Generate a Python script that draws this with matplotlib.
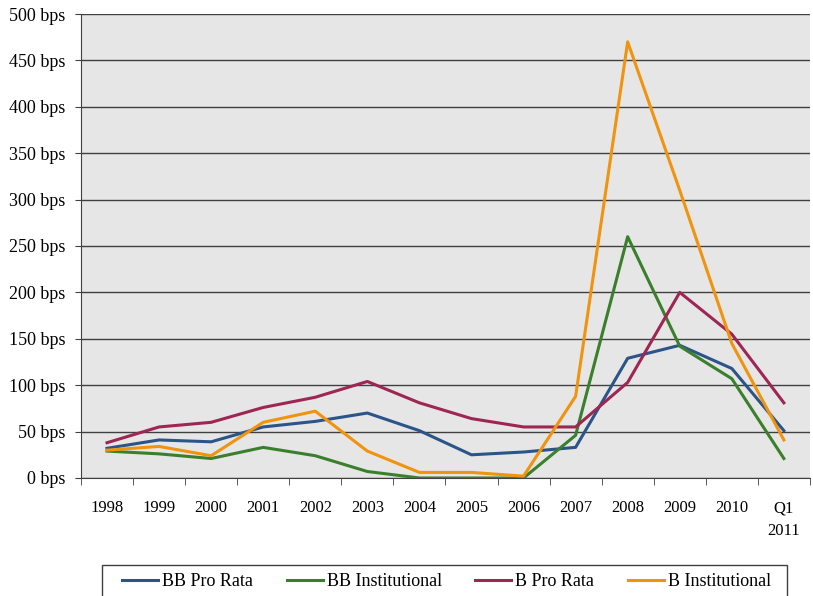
# Imports
import matplotlib
matplotlib.use('Agg')
import matplotlib.pyplot as plt
from matplotlib.patches import Rectangle
import numpy as np

# Data
categories = ['1998', '1999', '2000', '2001', '2002', '2003', '2004', '2005',
              '2006', '2007', '2008', '2009', '2010', 'Q1\n2011']
bb_pro_rata = [32, 41, 39, 55, 61, 70, 51, 25, 28, 33, 129, 143, 118, 51]
bb_institutional = [29, 26, 21, 33, 24, 7, 0, 0, 0, 46, 260, 142, 107, 21]
b_pro_rata = [38, 55, 60, 76, 87, 104, 81, 64, 55, 55, 103, 200, 155, 81]
b_institutional = [30, 34, 24, 60, 72, 29, 6, 6, 2, 88, 470, 310, 145, 41]
y_ticks = [0, 50, 100, 150, 200, 250, 300, 350, 400, 450, 500]

series = [('BB Pro Rata', bb_pro_rata, '#2b5488'),
          ('BB Institutional', bb_institutional, '#3a7f2c'),
          ('B Pro Rata', b_pro_rata, '#9e2653'),
          ('B Institutional', b_institutional, '#f0930d')]

plt.rcParams['font.family'] = ['Liberation Serif', 'DejaVu Serif']
plt.rcParams['font.size'] = 12.5


def main():
    fig = plt.figure(figsize=(8.13, 5.96), dpi=100)
    ax = fig.add_axes([0.0996, 0.198, 0.8966, 0.7785])
    ax.set_facecolor('#e6e6e6')

    x = np.arange(len(categories))
    for label, values, color in series:
        ax.plot(x, values, color=color, linewidth=2.2, label=label, zorder=3)

    # Axes limits and ticks
    ax.set_xlim(-0.5, len(categories) - 0.5)
    ax.set_ylim(0, 500)
    ax.set_yticks(y_ticks)
    ax.set_yticklabels(['{:d} bps'.format(v) for v in y_ticks], fontsize=13)
    ax.set_xticks(x)
    ax.set_xticklabels(categories, fontsize=12, linespacing=1.55)
    ax.set_xticks(np.arange(-0.5, len(categories)), minor=True)
    ax.tick_params(axis='x', which='major', length=0, pad=16)
    ax.tick_params(axis='x', which='minor', length=5, direction='out', color='#404040')
    ax.tick_params(axis='y', length=4, direction='out', color='#404040', pad=7)

    # Gridlines
    ax.yaxis.grid(True, color='#404040', linewidth=1.0, zorder=1)
    ax.set_axisbelow(True)
    for side in ['top', 'right']:
        ax.spines[side].set_visible(False)
    for side in ['left', 'bottom']:
        ax.spines[side].set_color('#404040')

    # Legend at bottom (frame drawn separately, it runs off the bottom edge)
    fig.legend(loc='center', bbox_to_anchor=(0.5492, 0.0235), ncol=4,
               frameon=False, handlelength=2.0, handletextpad=0.22,
               columnspacing=1.85, borderpad=0.3, borderaxespad=0, fontsize=13)
    fig.patches.append(Rectangle((102 / 813, -0.01), 685 / 813, 0.062,
                                 transform=fig.transFigure, fill=False,
                                 edgecolor='#404040', linewidth=1.0))

    plt.savefig('out.png', dpi=100)


if __name__ == '__main__':
    main()
